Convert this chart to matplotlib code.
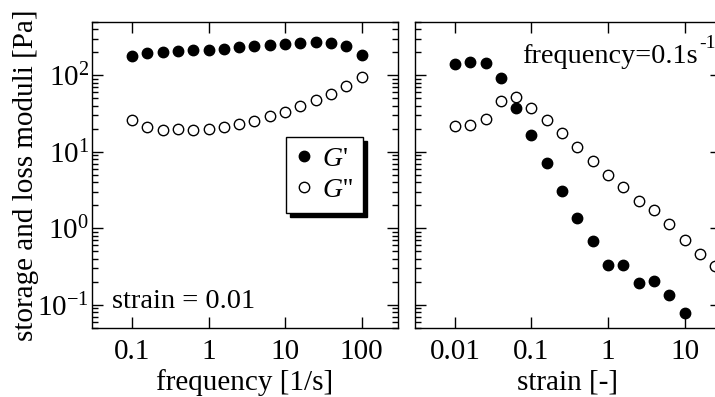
import matplotlib.pyplot as plt

plt.rcParams['font.family'] = ['Liberation Serif', 'DejaVu Serif']
plt.rcParams['mathtext.fontset'] = 'custom'
plt.rcParams['mathtext.rm'] = 'Liberation Serif'
plt.rcParams['mathtext.it'] = 'Liberation Serif:italic'

# frequency sweep (strain = 0.01)
freq = [0.1, 0.158, 0.251, 0.398, 0.631, 1, 1.58, 2.51, 3.98, 6.31,
        10, 15.8, 25.1, 39.8, 63.1, 100]
g1_freq = [177, 195, 201, 208, 214, 218, 223, 232, 239, 249,
           256, 264, 272, 269, 242, 186]
g2_freq = [26.4, 21.2, 19.5, 19.9, 19.2, 19.9, 21.0, 23.0, 25.4, 29.2,
           33.6, 40.2, 48.2, 57.1, 71.9, 94.2]

# strain sweep (frequency = 0.1 1/s)
strain = [0.01, 0.0158, 0.0251, 0.0398, 0.0631, 0.1, 0.158, 0.251, 0.398,
          0.631, 1, 1.58, 2.51, 3.98, 6.31, 10, 15.8, 25.1]
g1_strain = [139, 148, 145, 92.3, 37.9, 16.7, 7.26, 3.10, 1.35,
             0.684, 0.329, 0.332, 0.194, 0.208, 0.135, 0.078]
g2_strain = [22.0, 22.3, 26.7, 46.2, 52.1, 37.9, 26.1, 17.5, 11.5,
             7.55, 4.96, 3.43, 2.30, 1.75, 1.13, 0.711, 0.462, 0.326]

fs = 21

fig = plt.figure(figsize=(7.15, 3.97), dpi=100)
ax1 = fig.add_axes([0.1287, 0.1738, 0.428, 0.771])
ax2 = fig.add_axes([0.5804, 0.1738, 0.428, 0.771])

ms = 7.5
ax1.plot(freq, g1_freq, 'o', color='black', ms=ms, label="$G$'")
ax1.plot(freq, g2_freq, 'o', mfc='white', mec='black', mew=1, ms=ms, label="$G$''")
ax2.plot(strain[:len(g1_strain)], g1_strain, 'o', color='black', ms=ms, clip_on=False)
ax2.plot(strain, g2_strain, 'o', mfc='white', mec='black', mew=1, ms=ms)

for ax in (ax1, ax2):
    ax.set_xscale('log')
    ax.set_yscale('log')
    ax.set_ylim(0.05, 500)
    ax.tick_params(which='both', direction='in', top=True, right=True, labelsize=fs, width=1)
    ax.tick_params(which='major', length=8)
    ax.tick_params(which='minor', length=4)
    ax.tick_params(axis='x', pad=8)
    ax.tick_params(axis='y', pad=2)
    for s in ax.spines.values():
        s.set_linewidth(1)

ax1.set_xlim(0.03, 300)
ax2.set_xlim(0.003, 30)
ax1.set_xticks([0.1, 1, 10, 100])
ax1.set_xticklabels(['0.1', '1', '10', '100'])
ax2.set_xticks([0.01, 0.1, 1, 10])
ax2.set_xticklabels(['0.01', '0.1', '1', '10'])
ax2.tick_params(which='both', labelleft=False)

ax1.set_xlabel('frequency [1/s]', fontsize=fs, labelpad=3)
ax1.set_ylabel('storage and loss moduli [Pa]', fontsize=fs, labelpad=-1)
ax2.set_xlabel('strain [-]', fontsize=fs, labelpad=3)

ax1.text(0.065, 0.065, 'strain = 0.01', transform=ax1.transAxes, fontsize=20.5)
ax2.text(0.349, 0.888, 'frequency=0.1s', transform=ax2.transAxes,
         fontsize=20.3, va='center')
ax2.text(0.928, 0.93, '-1', transform=ax2.transAxes, fontsize=14, va='center')

leg = ax1.legend(loc='upper left', bbox_to_anchor=(0.634, 0.624), fontsize=20,
                 frameon=True, fancybox=False, edgecolor='black',
                 shadow={'color': 'black', 'alpha': 1, 'ox': 3, 'oy': -3},
                 handletextpad=0.35, borderpad=0.35, handlelength=0.6,
                 labelspacing=0.2, borderaxespad=0)
leg.get_frame().set_linewidth(1)

fig.savefig('out.png', dpi=100)
